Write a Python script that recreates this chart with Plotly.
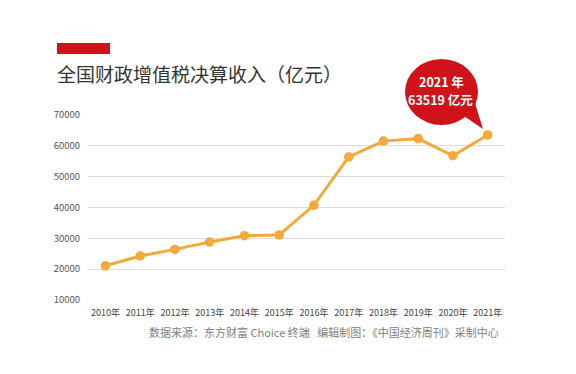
import plotly.graph_objects as go

years = ["2010年", "2011年", "2012年", "2013年", "2014年", "2015年",
         "2016年", "2017年", "2018年", "2019年", "2020年", "2021年"]
vat = [21093, 24267, 26416, 28810, 30855, 31109,
       40712, 56378, 61529, 62346, 56791, 63519]
y_ticks = [10000, 20000, 30000, 40000, 50000, 60000, 70000]
title_text = "全国财政增值税决算收入（亿元）"
source_text = "数据来源：东方财富 Choice 终端   编辑制图：《中国经济周刊》采制中心"
bubble_lines = ["2021 年", "63519 亿元"]

W, H = 576, 374
L, R, T, B = 88, 505, 115, 300  # plot area in px


def px(x):
    return (x - L) / (R - L)


def py(y):
    return (B - y) / (B - T)


FONT = "Noto Sans CJK SC, Noto Sans, sans-serif"
RED = "#D0121B"
ORANGE = "#F4A93A"

fig = go.Figure()
fig.add_trace(go.Scatter(
    x=years, y=vat, mode="lines+markers",
    line=dict(color=ORANGE, width=3),
    marker=dict(color=ORANGE, size=9.5),
    cliponaxis=False, hoverinfo="x+y",
))

shapes = [
    # red bar above title
    dict(type="rect", xref="paper", yref="paper",
         x0=px(57), x1=px(110), y0=py(54), y1=py(43),
         fillcolor=RED, line=dict(width=0), layer="above"),
    # speech bubble tail
    dict(type="path", xref="paper", yref="paper",
         path=f"M {px(458)},{py(112)} L {px(483)},{py(129)} L {px(474)},{py(100)} Z",
         fillcolor=RED, line=dict(width=0), layer="above"),
    # speech bubble body
    dict(type="circle", xref="paper", yref="paper",
         x0=px(405), x1=px(478), y0=py(125), y1=py(59),
         fillcolor=RED, line=dict(width=0), layer="above"),
]

annotations = [
    dict(text=title_text, xref="paper", yref="paper", x=px(55), y=py(73),
         xanchor="left", yanchor="middle", showarrow=False,
         font=dict(family=FONT, size=19, color="#333333")),
    dict(text=source_text, xref="paper", yref="paper", x=px(501), y=py(332),
         xanchor="right", yanchor="middle", showarrow=False,
         font=dict(family=FONT, size=11, color="#808080")),
    dict(text="<b>" + bubble_lines[0] + "</b>", xref="paper", yref="paper",
         x=px(441), y=py(81.5), xanchor="center", yanchor="middle",
         showarrow=False, font=dict(family=FONT, size=12.5, color="white")),
    dict(text="<b>" + bubble_lines[1] + "</b>", xref="paper", yref="paper",
         x=px(440), y=py(99.5), xanchor="center", yanchor="middle",
         showarrow=False, font=dict(family=FONT, size=12.5, color="white")),
]

fig.update_layout(
    width=W, height=H,
    margin=dict(l=L, r=W - R, t=T, b=H - B),
    paper_bgcolor="white", plot_bgcolor="white",
    showlegend=False,
    shapes=shapes, annotations=annotations,
    font=dict(family=FONT),
    xaxis=dict(type="category", range=[-0.5, len(years) - 0.5],
               showgrid=False, zeroline=False, showline=False,
               ticks="", ticklabelstandoff=6,
               tickfont=dict(size=9, color="#444444")),
    yaxis=dict(range=[y_ticks[0], y_ticks[-1]], tickvals=y_ticks,
               ticktext=[str(v) for v in y_ticks],
               showgrid=True, gridcolor="#DDDDDD", gridwidth=1,
               zeroline=False, showline=False, ticks="",
               ticklabelstandoff=7,
               tickfont=dict(size=9.5, color="#555555")),
)

fig.write_html("out.html", config={"displayModeBar": False},
               post_script="document.body.style.margin='0';document.body.style.overflow='hidden';")
